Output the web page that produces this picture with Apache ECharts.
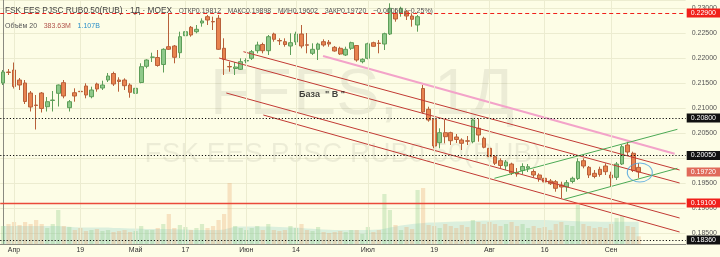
<!DOCTYPE html>
<html><head><meta charset="utf-8">
<script src="https://cdn.jsdelivr.net/npm/echarts@6/dist/echarts.min.js"></script>
<style>html,body{margin:0;padding:0;background:#fdfde6;}#c{width:720px;height:257px;}</style>
</head><body><div id="c"></div>
<script>
// ---- data ----
const tickIdx  = [2, 14, 24, 33, 44, 53, 66, 78, 88, 98, 110];
const tickText = ['Апр','19','Май','17','Июн','14','Июл','19','Авг','16','Сен'];
const slotCount = 124;

const opens = [0.2150,0.2172,0.2176,0.2156,0.2150,0.2130,0.2106,0.2130,0.21026,0.2115,
0.21294,0.21506,0.21006,0.21306,0.21334,0.2144,0.21226,0.2148,0.2140,0.2156,
0.2169,0.2156,0.2156,0.2146,0.21294,0.2151,0.21834,0.22014,0.2201,0.2187,
0.22226,0.2224,0.22106,0.22446,0.22614,0.22526,0.2270,0.22826,0.2273,0.22794,
0.22194,0.2183,0.2179,0.21774,0.2194,0.21994,0.22146,0.2227,0.22146,0.2248,
0.2235,0.22326,0.2224,0.2232,0.2248,0.22264,0.22094,0.22174,0.22326,0.22314,
0.22214,0.22194,0.2206,0.22194,0.2225,0.21926,0.21994,0.22306,0.22298,0.2228,
0.2248,0.22894,0.22894,0.22926,0.2284,0.2266,0.2139,0.20974,0.20774,0.20306,
0.20506,0.20506,0.2042,0.2036,0.20344,0.20326,0.20594,0.20394,0.20194,0.20026,
0.19946,0.1984,0.1988,0.1971,0.1975,0.19794,0.1973,0.1966,0.19594,0.1954,
0.19526,0.1946,0.1942,0.1953,0.1959,0.19946,0.19814,0.19694,0.19774,0.1984,
0.1966,0.19614,0.1988,0.2026,0.20094,0.19812];
const closes = [0.2172,0.2171,0.2143,0.2146,0.2113,0.2102,0.2105,0.2099,0.21126,0.2116,
0.2146,0.2124,0.21126,0.2124,0.21326,0.2126,0.2136,0.2138,0.2146,0.2164,
0.2148,0.2153,0.21446,0.21314,0.21394,0.21826,0.2196,0.2202,0.2185,0.22174,
0.22174,0.22014,0.22426,0.22526,0.2246,0.22574,0.2274,0.2276,0.22722,0.22174,
0.21974,0.21822,0.2182,0.21926,0.2195,0.22126,0.2226,0.22146,0.22426,0.22374,
0.22342,0.2227,0.22306,0.2248,0.2224,0.22256,0.22174,0.2228,0.2226,0.2228,
0.2214,0.2208,0.22174,0.22306,0.2196,0.21974,0.22284,0.22234,0.2229,0.22486,
0.22994,0.2278,0.22994,0.2284,0.22774,0.22826,0.2092,0.2076,0.2024,0.20506,
0.20426,0.20346,0.2037,0.20294,0.20336,0.2076,0.2046,0.20214,0.20026,0.19894,
0.1985,0.1992,0.1970,0.1968,0.1983,0.19826,0.1966,0.19594,0.1952,0.19486,
0.19394,0.1942,0.19506,0.19594,0.19926,0.1984,0.1966,0.1963,0.1967,0.19726,
0.1960,0.1988,0.20226,0.2012,0.1975,0.1972];
const lows = [0.2146,0.2166,0.2139,0.2136,0.2108,0.2093,0.2057,0.2091,0.2093,0.2093,
0.2103,0.21194,0.2093,0.21126,0.21234,0.21194,0.21194,0.21326,0.2136,0.2152,
0.2144,0.21326,0.2136,0.21206,0.2128,0.21494,0.21794,0.2192,0.21826,0.2171,
0.2216,0.21894,0.2200,0.22426,0.22426,0.22494,0.22626,0.2266,0.2256,0.2216,
0.2166,0.21726,0.2166,0.2176,0.21894,0.2196,0.22094,0.22094,0.2206,0.22326,
0.2226,0.22226,0.2206,0.2226,0.22194,0.22094,0.2206,0.2196,0.22226,0.22226,
0.22126,0.2206,0.2204,0.2216,0.21926,0.21894,0.21974,0.22226,0.22094,0.2216,
0.2246,0.22726,0.22826,0.2276,0.22626,0.22526,0.2089,0.20726,0.20194,0.20194,
0.20294,0.2026,0.2030,0.2016,0.2026,0.20294,0.20326,0.20194,0.19994,0.1986,
0.19794,0.1976,0.1966,0.19626,0.19674,0.1972,0.19606,0.19526,0.19474,0.1946,
0.19326,0.19194,0.19326,0.19494,0.1956,0.19794,0.1960,0.19594,0.19626,0.1966,
0.19426,0.1956,0.1986,0.2006,0.1972,0.19602];
const highs = [0.2176,0.2178,0.2191,0.2160,0.2156,0.2134,0.2126,0.2132,0.2122,0.2134,
0.2147,0.2156,0.2116,0.21394,0.21526,0.21494,0.21426,0.21506,0.21546,0.2170,
0.21726,0.21614,0.21594,0.21494,0.21414,0.21894,0.21974,0.22106,0.2216,0.22194,
0.2290,0.2226,0.22526,0.22794,0.2264,0.2266,0.22794,0.2286,0.22826,0.2286,
0.22394,0.21926,0.2192,0.21994,0.21994,0.2216,0.22326,0.22306,0.2246,0.22506,
0.22394,0.22394,0.22494,0.22526,0.2266,0.2250,0.22294,0.22306,0.22374,0.2236,
0.2224,0.22226,0.22226,0.22326,0.2226,0.21994,0.22306,0.22326,0.2236,0.22506,
0.23094,0.2296,0.23026,0.2296,0.22894,0.2286,0.2146,0.21026,0.20794,0.20594,
0.2076,0.20526,0.2048,0.20394,0.2044,0.20794,0.20794,0.20426,0.20226,0.2006,
0.19994,0.1996,0.19906,0.1980,0.19894,0.1988,0.19774,0.19694,0.19626,0.1958,
0.1956,0.19526,0.1956,0.19626,0.19994,0.19994,0.1984,0.1976,0.19826,0.19894,
0.19726,0.1992,0.2026,0.20326,0.20126,0.19898];

// volume, millions
const volumes = [900,1000,1100,950,1100,1000,1200,1000,800,1000,
1700,900,850,700,800,650,700,750,650,700,
600,650,700,600,650,900,700,700,800,1000,
1500,800,950,850,700,800,1000,800,900,1200,
1500,3050,900,800,700,800,900,700,1000,700,
650,700,900,800,1000,700,650,850,600,550,
600,650,600,700,700,500,850,600,700,2500,
1700,950,700,850,750,2700,2800,950,900,800,
1000,900,800,950,850,1200,1100,1000,1100,1000,
900,1000,1100,900,1000,800,900,800,850,700,
1000,1100,950,900,1950,1000,900,800,850,800,
1000,1300,1400,900,850,384];
const volMA = [900,900,900,900,900,900,900,900,900,900,
900,880,860,840,830,830,830,830,820,820,
800,800,790,780,770,760,750,750,750,750,
750,740,730,720,710,700,700,700,700,700,
720,800,860,880,880,880,880,880,870,860,
850,840,830,820,800,780,760,740,720,710,
700,700,700,700,700,700,700,710,720,760,
820,880,930,960,1000,1030,1050,1070,1080,1090,
1100,1110,1120,1130,1140,1150,1160,1170,1180,1190,
1200,1200,1200,1200,1200,1200,1200,1200,1200,1190,
1180,1170,1160,1150,1140,1130,1120,1120,1110,1110,
1110,1110,1110,1108,1107,1107];

// drawn tools: [x-slot, price] pairs
const pinkLine   = [[57.9, 0.2204], [121.5, 0.20086]];
const redLines   = [
  [[43.5, 0.22126], [122.4, 0.1976]],
  [[39.1, 0.2200],  [122.4, 0.1950]],
  [[40.4, 0.2130],  [122.4, 0.1880]],
  [[47.1, 0.2086],  [122.4, 0.1852]]
];
const greenLines = [
  [[88.9, 0.19594], [122.0, 0.20574]],
  [[101.5, 0.19174], [122.0, 0.19794]]
];
const circleAt = [115.2, 0.1971];
const noteAt = [57.7, 0.2126];
const noteText = 'База  " В "';

const levels = [
  {v: 0.22900, type: [4, 3], color: '#f0201a', tag: '#f0201a', width: 1},
  {v: 0.20800, type: [1.2, 2], color: '#111', tag: '#111', width: 1.2},
  {v: 0.20050, type: [1.2, 2], color: '#111', tag: '#111', width: 1.2},
  {v: 0.19720, type: 'solid', color: 'rgba(0,0,0,0)', tag: '#e06a5a', width: 1},
  {v: 0.19100, type: 'solid', color: '#ea4a3a', tag: '#f0201a', width: 1.4},
  {v: 0.18360, type: [1.2, 2], color: '#111', tag: '#111', width: 1.2}
];

// ---- build ----
const categories = new Array(slotCount).fill('');
tickIdx.forEach((k, i) => { categories[k] = tickText[i]; });
const candleData = opens.map((o, i) => [o, closes[i], lows[i], highs[i]]);
const volData = volumes.map((v, i) => ({
  value: v,
  itemStyle: {color: closes[i] >= opens[i] ? 'rgba(150,205,140,0.35)' : 'rgba(235,175,120,0.35)'}
}));

const lineSeries = (pts, color, width) => ({
  type: 'line', xAxisIndex: 1, yAxisIndex: 0, data: pts, symbol: 'none', silent: true,
  lineStyle: {color, width}, z: 4, animation: false
});

const chart = echarts.init(document.getElementById('c'), null, {renderer: 'canvas'});
const option = {
  animation: false,
  backgroundColor: '#fdfde6',
  grid: {left: -4, right: 32, top: 0, bottom: 13, containLabel: false},
  xAxis: [
    {type: 'category', data: categories, boundaryGap: true,
     axisLine: {show: true, lineStyle: {color: '#8a8a80'}}, axisTick: {show: false},
     axisLabel: {interval: 0, fontSize: 7, color: '#333', margin: 3, fontFamily: 'Liberation Sans'},
     splitLine: {show: false}},
    {type: 'value', min: -0.5, max: slotCount - 0.5, show: false}
  ],
  yAxis: [
    {type: 'value', position: 'right', min: 0.1828, max: 0.2316, splitNumber: 10, scale: true,
     axisLine: {show: true, lineStyle: {color: '#8a8a80'}}, axisTick: {show: false},
     axisLabel: {fontSize: 7, color: '#555', margin: 6, fontFamily: 'Liberation Sans',
       showMinLabel: false, showMaxLabel: false, formatter: v => v.toFixed(5)},
     splitLine: {show: true, lineStyle: {color: '#ececd0', width: 1}}},
    {type: 'value', min: 0, max: 12200, show: false}
  ],
  graphic: [
    {type: 'text', z: 1, silent: true,
     style: {x: 362, y: 64, text: 'FEES,  1Д', font: '65px "Liberation Sans"', fill: 'rgba(0,0,0,0.065)', textAlign: 'center', textVerticalAlign: 'top'}},
    {type: 'text', z: 1, silent: true,
     style: {x: 343, y: 140, text: 'FSK EES PJSC RUB0.50(RUB)', font: '28px "Liberation Sans"', fill: 'rgba(0,0,0,0.065)', textAlign: 'center', textVerticalAlign: 'top'}},
    {type: 'text', left: 5, top: 5, z: 10, silent: true,
     style: {
       text: '{t|FSK EES PJSC RUB0.50(RUB) · 1Д · MOEX}  {l|ОТКР}{v|0.19812}  {l|МАКС}{v|0.19898}  {l|МИН}{v|0.19602}  {l|ЗАКР}{v|0.19720}  {v|−0.00050 (−0.25%)}',
       rich: {
         t: {fontSize: 8.3, fontFamily: 'Liberation Sans', fill: '#444'},
         l: {fontSize: 6.5, fontFamily: 'Liberation Sans', fill: '#555'},
         v: {fontSize: 7, fontFamily: 'Liberation Sans', fill: '#555'}
       }}},
    {type: 'text', left: 5, top: 20, z: 10, silent: true,
     style: {
       text: '{l|Объём 20}  {a|383.63M}  {b|1.107B}',
       rich: {
         l: {fontSize: 7, fontFamily: 'Liberation Sans', fill: '#555'},
         a: {fontSize: 7, fontFamily: 'Liberation Sans', fill: '#b0524a'},
         b: {fontSize: 7, fontFamily: 'Liberation Sans', fill: '#2a8fc8'}
       }}}
  ],
  series: [
    {type: 'line', xAxisIndex: 1, yAxisIndex: 0, data: [[-5, 0.2]], symbol: 'none', silent: true, z: 0,
     lineStyle: {opacity: 0},
     markLine: {silent: true, symbol: 'none', label: {show: false}, animation: false, precision: 5,
       lineStyle: {color: '#ececd0', width: 1, type: 'solid'},
       data: tickIdx.map(k => ({xAxis: k}))}},
    {type: 'bar', xAxisIndex: 0, yAxisIndex: 1, data: volData, barWidth: 4.2, z: 1, silent: true},
    {type: 'line', xAxisIndex: 0, yAxisIndex: 1, data: volMA, symbol: 'none', silent: true, z: 1,
     lineStyle: {width: 0}, areaStyle: {color: 'rgba(110,195,195,0.33)'}},
    {type: 'candlestick', xAxisIndex: 0, yAxisIndex: 0, data: candleData, barWidth: 4.2, z: 3,
     itemStyle: {color: '#8fc98a', color0: '#e8834f', borderColor: '#5e9e59', borderColor0: '#b8603a', borderWidth: 1},
     markLine: {silent: true, symbol: 'none', animation: false, precision: 5,
       data: levels.map(l => ({yAxis: l.v,
         lineStyle: {color: l.color, type: l.type, width: l.width},
         label: {show: true, position: 'end', distance: 1, formatter: l.v.toFixed(5),
           backgroundColor: l.tag, color: '#fff', fontSize: 7, fontFamily: 'Liberation Sans',
           padding: [1, 4, 1, 4]}}))}},
    lineSeries(pinkLine, '#f3a3c9', 2),
    ...redLines.map(p => lineSeries(p, '#c23a34', 1)),
    ...greenLines.map(p => lineSeries(p, '#4caa55', 1)),
    {type: 'scatter', xAxisIndex: 1, yAxisIndex: 0, data: [circleAt], symbol: 'circle', symbolSize: [25, 19], silent: true, z: 5,
     itemStyle: {color: 'rgba(0,0,0,0)', borderColor: '#4aa3df', borderWidth: 1}},
    {type: 'scatter', xAxisIndex: 1, yAxisIndex: 0, data: [noteAt], symbolSize: 0, silent: true, z: 5,
     label: {show: true, position: 'inside', formatter: noteText, fontSize: 9, fontWeight: 'bold', color: '#111', fontFamily: 'Liberation Sans'}}
  ]
};
chart.setOption(option);
</script>
</body></html>
